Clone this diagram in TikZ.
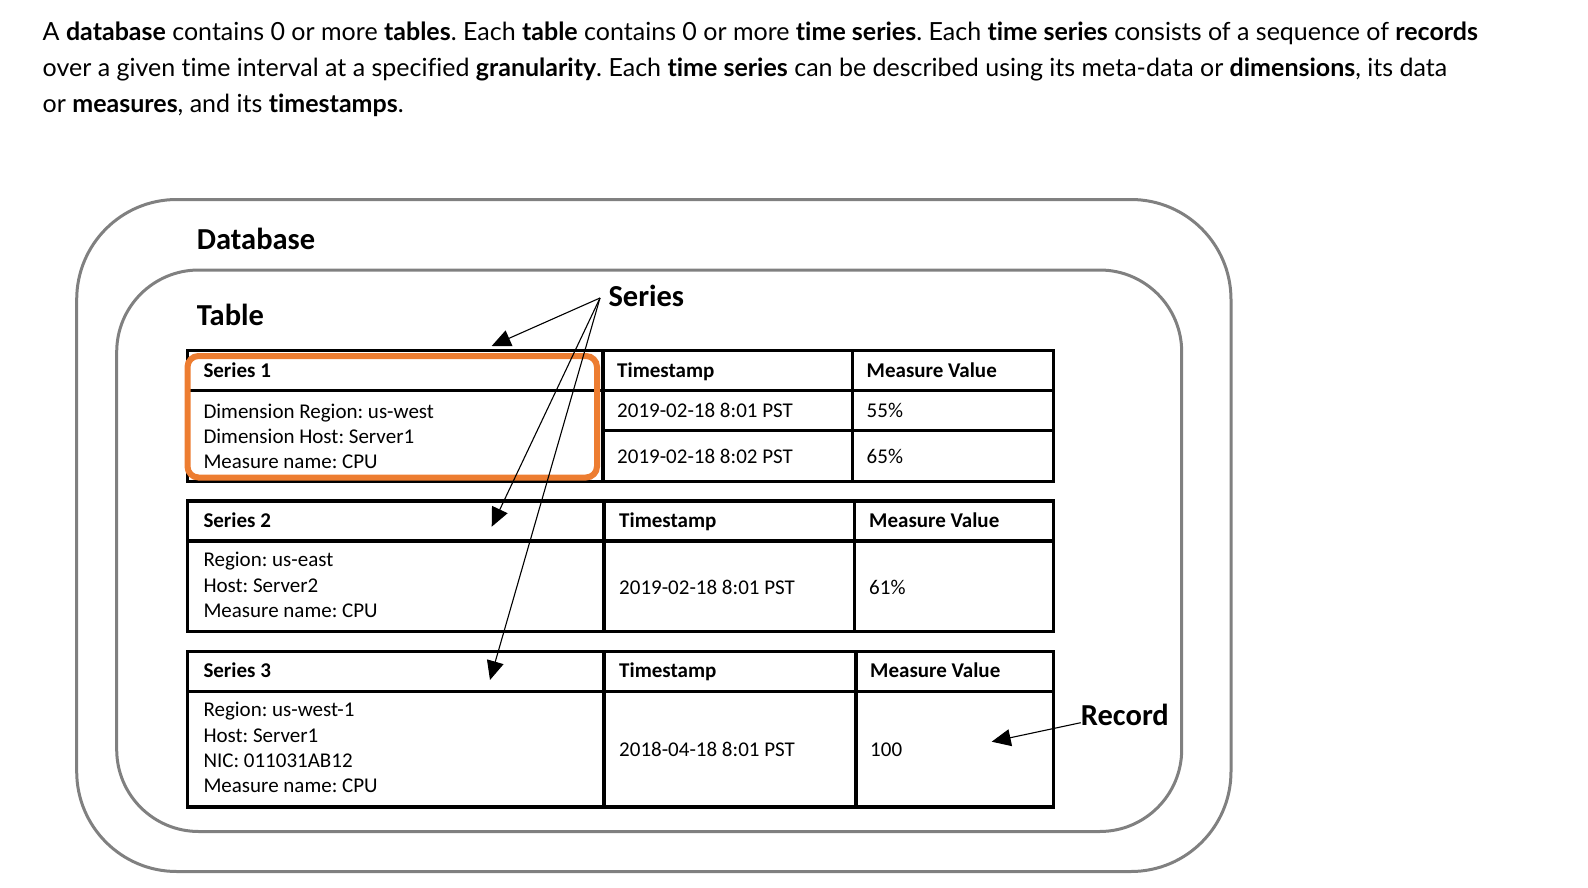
\documentclass[tikz,border=0pt]{standalone}
\usepackage{fontspec}
\setmainfont{Carlito}
\newfontfamily\parafont[Ligatures=NoCommon]{Lato}
\usetikzlibrary{arrows.meta}
\frenchspacing

\definecolor{framegray}{HTML}{808080}
\definecolor{selorange}{HTML}{ED7D31}

\begin{document}
\begin{tikzpicture}[x=1pt,y=-1pt,
  frame/.style={framegray, line width=3pt, rounded corners=#1},
  grid/.style={black, line width=3.2pt},
  cell/.style={anchor=base west, inner sep=0pt, font=\fontsize{21}{25}\selectfont},
  head/.style={cell, font=\fontsize{21}{25}\selectfont\bfseries},
  title/.style={anchor=base west, inner sep=0pt, font=\fontsize{30.5}{36}\selectfont\bfseries},
  para/.style={anchor=base west, inner sep=0pt, font=\parafont\fontsize{25}{36}\selectfont},
  pointer/.style={-{Triangle[length=19pt,width=17pt]}, line width=1.1pt}]

\useasboundingbox (0,0) rectangle (1588,888);

% intro text
\node[para] (line1) at (42.5,40.5) {A \textbf{database} contains 0 or more \textbf{tables}. Each \textbf{table} contains 0 or more \textbf{time series}. Each \textbf{time series} consists of a sequence of \textbf{records}};
\node[para] (line2) at (42.5,76.5) {over a given time interval at a specified \textbf{granularity}. Each \textbf{time series} can be described using its meta-data or \textbf{dimensions}, its data};
\node[para] (line3) at (42.5,112.5) {or \textbf{measures}, and its \textbf{timestamps}.};

% database and table frames
\draw[frame=100pt] (76.7,199.5) rectangle (1231,871.5);
\draw[frame=82pt] (116.7,270) rectangle (1181.7,831.5);
\node[title] (dblbl) at (196.7,249) {Database};
\node[title] (tbllbl) at (196.7,325) {Table};

% series 1
\draw[grid] (187.7,350.5) rectangle (1053.5,481.5);
\draw[grid] (187.7,390.5) -- (1053.5,390.5);
\draw[grid] (603,430.5) -- (1053.5,430.5);
\draw[grid] (603,350.5) -- (603,481.5);
\draw[grid] (852.5,350.5) -- (852.5,481.5);
\node[head] (s1head) at (203.3,377.5) {Series 1};
\foreach \t [count=\i] in {Dimension Region: us-west, Dimension Host: Server1, Measure name: CPU}
  \node[cell] (s1dim\i) at (203.3,418+25*\i-25) {\t};
\node[head] (s1ts) at (617,377.5) {Timestamp};
\node[head] (s1mv) at (866.5,377.5) {Measure Value};
\node[cell] (s1tsa) at (617,417.5) {2019-02-18 8:01 PST};
\node[cell] (s1tsb) at (617,463) {2019-02-18 8:02 PST};
\node[cell] (s1mva) at (866.5,417.5) {55\%};
\node[cell] (s1mvb) at (866.5,463) {65\%};
\draw[selorange, line width=6pt, rounded corners=11pt] (187.5,356) rectangle (597,477.5);

% series 2
\draw[grid] (187.7,501) rectangle (1053.5,631.5);
\draw[grid] (187.7,541) -- (1053.5,541);
\draw[grid] (604,501) -- (604,631.5);
\draw[grid] (854.5,501) -- (854.5,631.5);
\node[head] (s2head) at (203.3,527.5) {Series 2};
\foreach \t [count=\i] in {Region: us-east, Host: Server2, Measure name: CPU}
  \node[cell] (s2dim\i) at (203.3,566.7+25.3*\i-25.3) {\t};
\node[head] (s2ts) at (619,527.5) {Timestamp};
\node[head] (s2mv) at (869,527.5) {Measure Value};
\node[cell] (s2tsa) at (619,594) {2019-02-18 8:01 PST};
\node[cell] (s2mva) at (869,594) {61\%};

% series 3
\draw[grid] (187.7,651.5) rectangle (1053.5,807);
\draw[grid] (187.7,691.5) -- (1053.5,691.5);
\draw[grid] (604,651.5) -- (604,807);
\draw[grid] (856,651.5) -- (856,807);
\node[head] (s3head) at (203.3,677.5) {Series 3};
\foreach \t [count=\i] in {Region: us-west-1, Host: Server1, NIC: 011031AB12, Measure name: CPU}
  \node[cell] (s3dim\i) at (203.3,716.7+25.3*\i-25.3) {\t};
\node[head] (s3ts) at (619,677.5) {Timestamp};
\node[head] (s3mv) at (870,677.5) {Measure Value};
\node[cell] (s3tsa) at (619,756.5) {2018-04-18 8:01 PST};
\node[cell] (s3mva) at (870,756.5) {100};

% series pointers
\node[title] (serlbl) at (608.3,306) {Series};
\coordinate (sersrc) at (600,298);
\coordinate (s1tip) at (491.7,346);
\coordinate (s2tip) at (491.7,526.7);
\coordinate (s3tip) at (490,680);
\foreach \n in {s1tip,s2tip,s3tip}
  \draw[pointer] (sersrc) -- (\n);

% record pointer
\node[title] (reclbl) at (1080.7,725.7) {Record};
\coordinate (rectip) at (991.7,741.7);
\draw[pointer] ([yshift=3pt]reclbl.base west) -- (rectip);
\end{tikzpicture}
\end{document}
